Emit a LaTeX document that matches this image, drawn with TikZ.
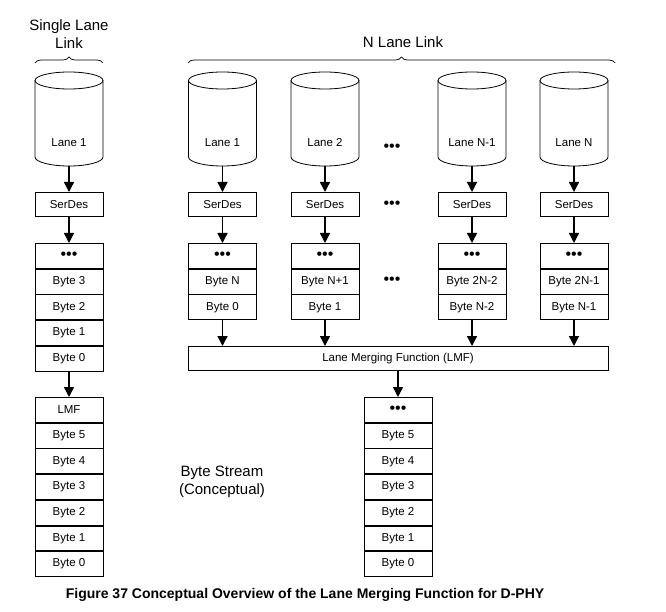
\documentclass[tikz,border=0pt]{standalone}
\usepackage{fontspec}
\setmainfont{Liberation Sans}
\usetikzlibrary{positioning,arrows.meta,decorations.pathreplacing}

\tikzset{
  cell/.style={draw, line width=0.8pt, minimum width=68pt, minimum height=24.9pt, inner sep=0pt, font=\fontsize{11.5}{13}\selectfont},
  serdes/.style={cell, minimum height=24.2pt},
  flow/.style={-{Triangle[length=10pt,width=10pt]}, line width=1.4pt},
  drum/.style={line width=0.8pt},
  tag/.style={font=\fontsize{15}{18}\selectfont, align=center},
  linkbrace/.style={decorate, decoration={brace, amplitude=6pt}, line width=0.7pt},
}
\newcommand{\gapdots}{{\fontsize{16}{16}\selectfont\textbullet\textbullet\textbullet}}
\newcommand{\bytedots}{\gapdots\hspace{12pt}}
% cylinder: x centre, name, label
\newcommand{\lanedrum}[3]{%
  \draw[drum] (#1,-80.5) ellipse (34 and 8.5);
  \draw[drum] (#1-34,-80.5) -- (#1-34,-157) arc[start angle=180, end angle=360, x radius=34, y radius=9] -- (#1+34,-80.5);
  \node[font=\fontsize{11.5}{13}\selectfont] (#2) at (#1,-143) {#3};
  \coordinate (foot-#2) at (#1,-166);
}

\begin{document}
\begin{tikzpicture}[x=1pt, y=1pt]
  \useasboundingbox (0,0) rectangle (666,-612);

  % single lane link
  \node[tag] (singlettl) at (69,-34) {Single Lane\\Link};
  \draw[linkbrace] (35,-63) -- (103,-63);
  \lanedrum{69}{lane0}{Lane 1}
  \node[serdes] (sd0) at (69,-204.5) {SerDes};
  \node[cell, anchor=north] (s0) at (69,-243) {\bytedots};
  \foreach \b [count=\k, remember=\k as \j (initially 0)] in {Byte 3,Byte 2,Byte 1,Byte 0}
    \node[cell, below=0pt of s\j] (s\k) {\b};
  \node[cell, anchor=north] (m0) at (69,-397) {LMF};
  \foreach \b [count=\k, remember=\k as \j (initially 0)] in {Byte 5,Byte 4,Byte 3,Byte 2,Byte 1,Byte 0}
    \node[cell, below=0pt of m\j] (m\k) {\b};
  \draw[flow] (foot-lane0) -- (sd0);
  \draw[flow] (sd0) -- (s0);
  \draw[flow] (s4) -- (m0);

  % N lane link
  \node[tag] (nttl) at (403,-42) {N Lane Link};
  \draw[linkbrace] (188,-63) -- (615,-63);
  \node[cell, minimum width=420pt, minimum height=24.2pt] (lmf) at (398,-358.5) {Lane Merging Function (LMF)};
  \foreach \cx/\id/\ln/\hi/\lo in {222.5/1/Lane 1/Byte N/Byte 0, 325/2/Lane 2/Byte N+1/Byte 1,
      472/3/Lane N-1/Byte 2N-2/Byte N-2, 574/4/Lane N/Byte 2N-1/Byte N-1} {
    \lanedrum{\cx}{lane\id}{\ln}
    \node[serdes] (sd\id) at (\cx,-204.5) {SerDes};
    \node[cell, anchor=north] (t\id) at (\cx,-243) {\bytedots};
    \node[cell, below=0pt of t\id] (hi\id) {\hi};
    \node[cell, below=0pt of hi\id] (lo\id) {\lo};
    \draw[flow] (foot-lane\id) -- (sd\id);
    \draw[flow] (sd\id) -- (t\id);
    \draw[flow] (lo\id.south) -- (lo\id.south |- lmf.north);
  }
  \node (gap1) at (392,-148) {\gapdots};
  \node (gap2) at (392,-204.5) {\gapdots};
  \node (gap3) at (392,-281) {\gapdots};

  % merged output
  \node[cell, anchor=north] (o0) at (398,-397) {\bytedots};
  \foreach \b [count=\k, remember=\k as \j (initially 0)] in {Byte 5,Byte 4,Byte 3,Byte 2,Byte 1,Byte 0}
    \node[cell, below=0pt of o\j] (o\k) {\b};
  \draw[flow] (lmf) -- (o0);

  \node[tag] (bstream) at (222,-482) {Byte Stream\\(Conceptual)};
  \node[font=\fontsize{14}{16}\selectfont\bfseries] (caption) at (305,-595)
    {Figure 37 Conceptual Overview of the Lane Merging Function for D-PHY};
\end{tikzpicture}
\end{document}
